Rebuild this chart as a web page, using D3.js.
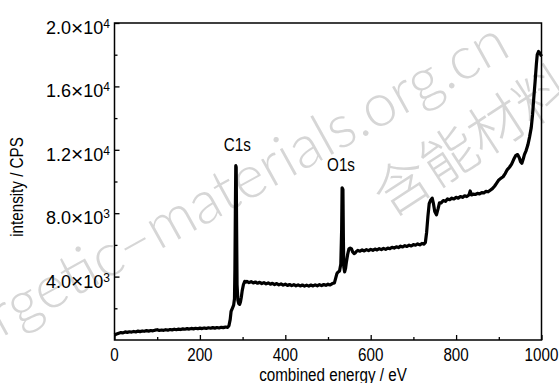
<!DOCTYPE html>
<html><head><meta charset="utf-8">
<script src="https://cdn.jsdelivr.net/npm/d3@7"></script>
<style>body{margin:0;background:#fff}svg{display:block}</style></head>
<body><svg id="c" width="559" height="383"></svg>
<script>
// ---- data ----
const energy = [0,5,10,15,20,25,30,35,40,45,50,55,60,65,70,75,80,85,90,95,100,105,110,115,120,125,130,135,140,145,150,155,160,165,170,175,180,185,190,195,200,205,210,215,220,225,230,235,240,245,250,255,260,265,
268,271,273,276,279,281,282,283,284,285,286,287,289,291,293,295,297,299,302,305,308,
310,315,320,325,330,335,340,345,350,355,360,365,370,375,380,385,390,395,400,405,410,415,420,425,430,435,440,445,450,455,460,465,470,475,480,485,490,495,500,505,510,515,
518,521,524,527,530,532,533,535,536,537,539,541,543,546,549,552,555,558,561,564,567,570,575,580,585,590,595,600,605,610,615,620,625,630,635,640,645,650,655,660,665,670,675,680,685,690,695,700,705,710,715,720,725,
728,731,734,737,740,744,747,750,754,758,761,765,770,775,780,785,790,795,800,805,810,815,820,825,830,833,836,840,845,850,855,860,865,870,875,880,885,890,895,900,905,910,915,920,925,930,935,940,944,948,951,954,957,960,964,968,972,976,979,982,985,988,990,993,996,1000];
const intensity = [300,380,430,470,450,510,480,520,500,540,510,560,530,570,550,590,560,600,580,620,650,600,630,610,650,620,660,640,680,650,690,660,700,680,720,690,730,700,740,710,750,720,760,730,770,740,780,750,790,760,800,780,820,800,
900,1300,1800,2000,2200,2600,4500,8000,11000,10900,7000,3500,2500,2300,2250,2400,2700,3100,3500,3700,3650,
3700,3620,3680,3600,3660,3580,3640,3560,3620,3540,3600,3520,3580,3500,3560,3480,3540,3460,3520,3440,3500,3430,3490,3420,3480,3410,3470,3400,3460,3400,3470,3410,3480,3420,3490,3430,3500,3450,3520,3470,3560,3600,
3900,4200,4300,4350,4800,7000,9600,9500,6500,4600,4300,4500,4900,5400,5750,5800,5750,5550,5450,5500,5600,5650,5600,5680,5620,5700,5640,5720,5660,5740,5680,5760,5700,5780,5720,5800,5760,5850,5800,5880,5830,5920,5870,5950,5900,5980,5930,6020,5980,6060,6000,6090,6050,
6150,6800,7800,8600,8800,8950,8600,8100,7900,8300,8650,8650,8800,8750,8900,8850,8950,8900,9000,8950,9050,9000,9100,9050,9150,9400,9150,9200,9180,9250,9220,9300,9280,9380,9350,9450,9550,9700,9900,10100,10200,10300,10500,10750,10900,11100,11400,11650,11700,11500,11250,11150,11400,11700,11950,12300,12800,13400,14200,15300,16300,17400,18000,18200,18100,17900];

const xMajorTicks = [0,200,400,600,800,1000];
const xMinorTicks = [100,300,500,700,900];
const yMajorTicks = [4000,8000,12000,16000,20000];
const yTickMantissa = ["4.0","8.0","1.2","1.6","2.0"];
const yTickExponent = ["3","3","4","4","4"];
const yMinorTicks = [2000,6000,10000,14000,18000];
const peakLabels = ["C1s","O1s"];
const peakEnergy = [284,534];
const peakIntensity = [11000,9600];
const xTitle = "combined energy / eV";
const yTitle = "intensity / CPS";
const watermarkEn = "energetic\u2013materials.org.cn";
const watermarkCn = "含能材料";

// ---- layout ----
const svg = d3.select("#c");
const L = 114.5, R = 541.5, T = 23, B = 340;
const x = d3.scaleLinear().domain([0,1000]).range([L,R]);
const y = d3.scaleLinear().domain([0,20000]).range([B,T]);
const font = "'Liberation Sans', Arial, sans-serif";

// watermark
const wm = svg.append("g").attr("fill","#d6d6d6");
wm.append("text").attr("transform","translate(-82,384) rotate(-29)").attr("font-size",60)
  .style("font-family","Lato, Roboto, 'Liberation Sans', sans-serif").style("font-weight","300").text(watermarkEn);
wm.append("text").attr("transform","translate(470,137) rotate(-33)").attr("font-size",56)
  .attr("text-anchor","middle").attr("dominant-baseline","central")
  .style("font-family","'Noto Sans CJK SC', sans-serif").style("font-weight","300").text(watermarkCn);

// frame
svg.append("rect").attr("x",L).attr("y",T).attr("width",R-L).attr("height",B-T)
  .attr("fill","none").attr("stroke","#000").attr("stroke-width",1.5);

// x axis ticks (inward)
const xg = svg.append("g").attr("transform",`translate(0,${B})`)
  .call(d3.axisBottom(x).tickValues(xMajorTicks).tickSize(-5).tickFormat(""));
xg.select(".domain").remove();
xg.selectAll("line").attr("stroke-width",1.3);
const xg2 = svg.append("g").attr("transform",`translate(0,${B})`)
  .call(d3.axisBottom(x).tickValues(xMinorTicks).tickSize(-3).tickFormat(""));
xg2.select(".domain").remove();
xg2.selectAll("line").attr("stroke-width",1.3);
svg.append("g").selectAll("text").data(xMajorTicks).join("text")
  .attr("transform",d=>`translate(${x(d)},360.5) scale(0.8,1)`)
  .attr("text-anchor","middle").attr("font-family",font).attr("font-size",19).text(d=>d);

// y axis ticks (inward)
const yg = svg.append("g").attr("transform",`translate(${L},0)`)
  .call(d3.axisLeft(y).tickValues(yMajorTicks).tickSize(-5).tickFormat(""));
yg.select(".domain").remove();
yg.selectAll("line").attr("stroke-width",1.3);
const yg2 = svg.append("g").attr("transform",`translate(${L},0)`)
  .call(d3.axisLeft(y).tickValues(yMinorTicks).tickSize(-3).tickFormat(""));
yg2.select(".domain").remove();
yg2.selectAll("line").attr("stroke-width",1.3);
const yl = svg.append("g").selectAll("text").data(yMajorTicks).join("text")
  .attr("transform",d=>`translate(110,${y(d)+11})`)
  .attr("text-anchor","end").attr("font-family",font).attr("font-size",18);
yl.append("tspan").text((d,i)=>yTickMantissa[i]);
yl.append("tspan").attr("font-size",21).attr("dy",0.5).text("\u00d7");
yl.append("tspan").attr("dy",-0.5).text("10");
yl.append("tspan").attr("dy",-6).attr("font-size",12).text((d,i)=>yTickExponent[i]);

// spectrum
const pts = energy.map((e,i)=>[e,intensity[i]]);
svg.append("path").datum(pts)
  .attr("d",d3.line().x(d=>x(d[0])).y(d=>y(d[1])))
  .attr("fill","none").attr("stroke","#000").attr("stroke-width",3.2).attr("stroke-linejoin","round");

// peak labels
svg.append("g").selectAll("text").data(peakLabels).join("text")
  .attr("transform",(d,i)=>`translate(${x(peakEnergy[i])+ (i?-1.5:1.5)},${y(peakIntensity[i])-(i?17:15)}) scale(0.8,1)`)
  .attr("text-anchor","middle").attr("font-family",font).attr("font-size",19).text(d=>d);

// axis titles
svg.append("text").attr("transform",`translate(${(L+R)/2+5},381) scale(0.8,1)`)
  .attr("text-anchor","middle").attr("font-family",font).attr("font-size",19).text(xTitle);
svg.append("text").attr("transform",`translate(23,187) rotate(-90) scale(0.8,1)`)
  .attr("text-anchor","middle").attr("font-family",font).attr("font-size",19).text(yTitle);
</script></body></html>
